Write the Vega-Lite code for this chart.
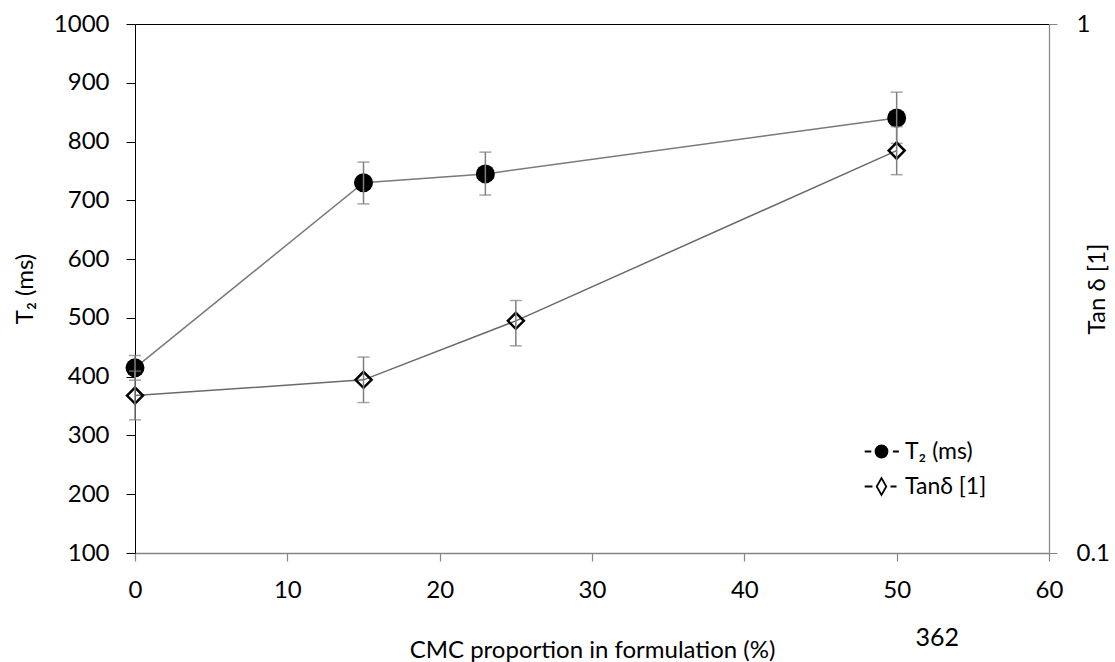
{
  "$schema": "https://vega.github.io/schema/vega-lite/v6.json",
  "width": 914,
  "height": 529,
  "autosize": "none",
  "padding": {"left": 135, "top": 24, "right": 66, "bottom": 109},
  "background": "white",
  "config": {
    "view": {"stroke": null},
    "font": "Lato",
    "axis": {"labelFont": "Lato", "titleFont": "Lato", "labelFontSize": 24, "titleFontSize": 23, "titleFontWeight": "normal", "labelColor": "#000", "titleColor": "#000", "grid": false}
  },
  "title": {"text": "362", "orient": "bottom", "anchor": "end", "frame": "group", "font": "Lato", "fontSize": 25, "fontWeight": "normal", "color": "#000", "dx": -90, "offset": -16, "baseline": "alphabetic"},
  "datasets": {
    "t2": [
      {"cmc": 0, "value": 415, "low": 394, "high": 436, "series": "T₂ (ms)"},
      {"cmc": 15, "value": 730, "low": 694, "high": 765, "series": "T₂ (ms)"},
      {"cmc": 23, "value": 745, "low": 709, "high": 782, "series": "T₂ (ms)"},
      {"cmc": 50, "value": 840, "low": 797, "high": 884, "series": "T₂ (ms)"}
    ],
    "tan": [
      {"cmc": 0, "value": 0.1984, "low": 0.1785, "high": 0.2207, "series": "Tanδ [1]"},
      {"cmc": 15, "value": 0.2125, "low": 0.1925, "high": 0.2346, "series": "Tanδ [1]"},
      {"cmc": 25, "value": 0.2747, "low": 0.2464, "high": 0.3001, "series": "Tanδ [1]"},
      {"cmc": 50, "value": 0.5763, "low": 0.519, "high": 0.6397, "series": "Tanδ [1]"}
    ]
  },
  "layer": [
    {
      "data": {"name": "t2"},
      "layer": [
        {
          "mark": {"type": "line", "color": "#7a7a7a", "strokeWidth": 1.5},
          "encoding": {
            "x": {"field": "cmc", "type": "quantitative", "scale": {"domain": [0, 60], "nice": false},
              "axis": {"orient": "bottom", "values": [0, 10, 20, 30, 40, 50, 60], "labelFlush": false, "domainColor": "#868686", "domainWidth": 1.5, "tickColor": "#868686", "tickWidth": 1.2, "tickSize": 8, "labelPadding": 17, "title": "CMC proportion in formulation (%)", "titleFontSize": 24, "titleY": 104, "titleBaseline": "alphabetic"}},
            "y": {"field": "value", "type": "quantitative", "scale": {"domain": [100, 1000], "nice": false},
              "axis": {"orient": "left", "values": [100, 200, 300, 400, 500, 600, 700, 800, 900, 1000], "format": "d", "domainColor": "#000", "domainWidth": 1, "tickColor": "#000", "tickSize": 9, "labelPadding": 17, "title": "T₂ (ms)", "titleFontSize": 24, "titleAngle": 270, "titleX": -110, "titleY": 264.5, "titleAlign": "center", "titleBaseline": "middle"}}
          }
        },
        {
          "mark": {"type": "point", "shape": "circle", "filled": true, "fill": "#000", "size": 361, "opacity": 1, "strokeWidth": 0},
          "encoding": {
            "x": {"field": "cmc", "type": "quantitative"},
            "y": {"field": "value", "type": "quantitative"}
          }
        },
        {
          "mark": {"type": "rule", "color": "#7f7f7f", "strokeWidth": 1.5},
          "encoding": {
            "x": {"field": "cmc", "type": "quantitative"},
            "y": {"field": "low", "type": "quantitative"},
            "y2": {"field": "high"}
          }
        },
        {
          "mark": {"type": "tick", "orient": "horizontal", "size": 12, "thickness": 1.5, "color": "#7f7f7f"},
          "encoding": {
            "x": {"field": "cmc", "type": "quantitative"},
            "y": {"field": "low", "type": "quantitative"}
          }
        },
        {
          "mark": {"type": "tick", "orient": "horizontal", "size": 12, "thickness": 1.5, "color": "#7f7f7f"},
          "encoding": {
            "x": {"field": "cmc", "type": "quantitative"},
            "y": {"field": "high", "type": "quantitative"}
          }
        },
        {
          "mark": {"type": "point", "size": 0, "filled": false, "stroke": "#000", "strokeWidth": 1.8, "opacity": 1},
          "encoding": {
            "x": {"field": "cmc", "type": "quantitative"},
            "y": {"field": "value", "type": "quantitative"},
            "shape": {"field": "series", "type": "nominal",
              "scale": {"domain": ["T₂ (ms)", "Tanδ [1]"], "range": ["M-2.8,0H-1.7M1.9,0H2.9M-1,0A1,1 0 1,0 1,0A1,1 0 1,0 -1,0Z", "M-2.8,0H-1.5M1.5,0H2.5M0,-1.4L0.8,0L0,1.4L-0.8,0Z"]},
              "legend": {"orient": "none", "legendX": 735, "legendY": 416, "title": null, "padding": 0, "rowPadding": 10, "symbolSize": 144, "symbolStrokeWidth": 1.8, "labelFont": "Lato", "labelFontSize": 23, "labelColor": "#000", "labelOffset": 12, "labelLimit": 300}},
            "fill": {"field": "series", "type": "nominal",
              "scale": {"domain": ["T₂ (ms)", "Tanδ [1]"], "range": ["#000000", "#ffffff"]},
              "legend": {"orient": "none", "legendX": 735, "legendY": 416, "title": null, "padding": 0, "rowPadding": 10, "symbolSize": 144, "symbolStrokeWidth": 1.8, "labelFont": "Lato", "labelFontSize": 23, "labelColor": "#000", "labelOffset": 12, "labelLimit": 300}}
          }
        }
      ]
    },
    {
      "data": {"name": "tan"},
      "layer": [
        {
          "mark": {"type": "line", "color": "#6a6a6a", "strokeWidth": 1.5},
          "encoding": {
            "x": {"field": "cmc", "type": "quantitative",
              "axis": {"orient": "top", "domainColor": "#000", "domainWidth": 1, "ticks": false, "labels": false, "title": null}},
            "y": {"field": "value", "type": "quantitative", "scale": {"type": "log", "domain": [0.1, 1], "nice": false},
              "axis": {"orient": "right", "values": [0.1, 1], "format": "~g", "domainColor": "#868686", "domainWidth": 1.2, "tickColor": "#868686", "tickSize": 8, "labelPadding": 19, "title": "Tan δ [1]", "titleFontSize": 24, "titleAngle": 270, "titleX": 48, "titleY": 264.5, "titleAlign": "center", "titleBaseline": "middle"}}
          }
        },
        {
          "mark": {"type": "point", "shape": "diamond", "filled": false, "fill": "transparent", "size": 256, "opacity": 1, "stroke": "#000", "strokeWidth": 2.5},
          "encoding": {
            "x": {"field": "cmc", "type": "quantitative"},
            "y": {"field": "value", "type": "quantitative"}
          }
        },
        {
          "mark": {"type": "rule", "color": "#7f7f7f", "strokeWidth": 1.5},
          "encoding": {
            "x": {"field": "cmc", "type": "quantitative"},
            "y": {"field": "low", "type": "quantitative"},
            "y2": {"field": "high"}
          }
        },
        {
          "mark": {"type": "tick", "orient": "horizontal", "size": 12, "thickness": 1.5, "color": "#7f7f7f"},
          "encoding": {
            "x": {"field": "cmc", "type": "quantitative"},
            "y": {"field": "low", "type": "quantitative"}
          }
        },
        {
          "mark": {"type": "tick", "orient": "horizontal", "size": 12, "thickness": 1.5, "color": "#7f7f7f"},
          "encoding": {
            "x": {"field": "cmc", "type": "quantitative"},
            "y": {"field": "high", "type": "quantitative"}
          }
        }
      ]
    }
  ],
  "resolve": {"scale": {"y": "independent"}, "axis": {"x": "independent"}}
}
